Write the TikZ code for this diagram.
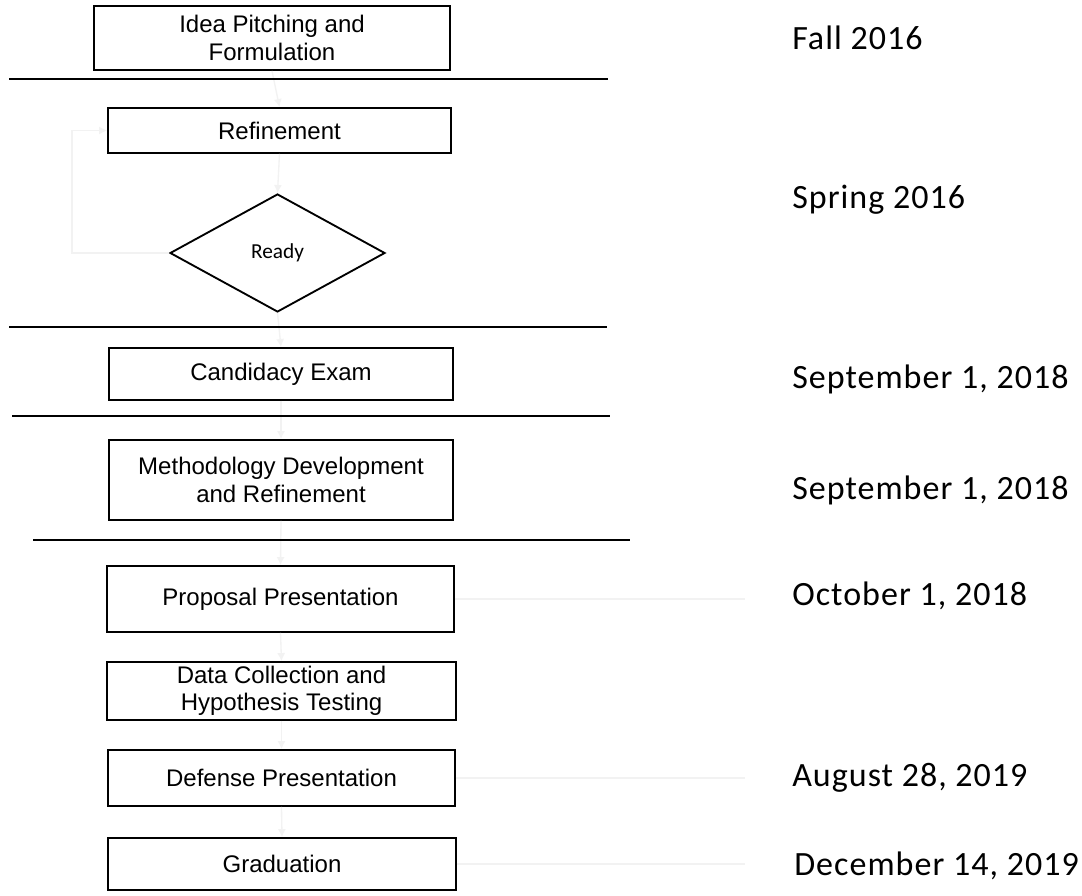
\documentclass[tikz,border=0pt]{standalone}
\usepackage{fontspec}
\setmainfont{Liberation Sans}
\newfontfamily\datefont{Carlito}
\newfontfamily\datewide[LetterSpace=3]{Carlito}
\usetikzlibrary{shapes.geometric,arrows.meta}
\def\pxu{0.75pt}
\begin{document}
\begin{tikzpicture}[x=0.75pt,y=-0.75pt,
  box/.style={draw,line width=1.4pt,inner sep=0pt,align=center,
    font=\fontsize{18}{20.5}\selectfont},
  rdybox/.style={draw,line width=1.4pt,diamond,inner sep=0pt,
    font=\datefont\fontsize{16}{18}\selectfont},
  sepline/.style={line width=1.4pt},
  faint/.style={draw=black!5,line width=1pt},
  faintarrow/.style={faint,-{Latex[length=6pt,width=6pt]}},
  datelbl/.style={anchor=west,inner sep=0pt,font=\datewide\fontsize{25.5}{30}\selectfont}]
\fill[white] (0,0) rectangle (1082,896);
\useasboundingbox (0,0) rectangle (1082,896);

% boxes
\node[box,minimum width=356*\pxu,minimum height=64*\pxu] (idea) at (272,38) {Idea Pitching and\\Formulation};
\node[box,minimum width=343*\pxu,minimum height=45*\pxu] (ref) at (279.5,130.5) {Refinement};
\node[rdybox,minimum width=215*\pxu,minimum height=118*\pxu] (rdy) at (277.5,253) {Ready};
\node[box,minimum width=344*\pxu,minimum height=52*\pxu] (cand) at (281,374) {Candidacy Exam};
\node[box,minimum width=344*\pxu,minimum height=80*\pxu] (meth) at (281,480) {Methodology Development\\and Refinement};
\node[box,minimum width=347*\pxu,minimum height=66*\pxu] (prop) at (280.5,599) {Proposal Presentation};
\node[box,minimum width=349*\pxu,minimum height=58*\pxu] (data) at (281.5,691) {Data Collection and\\Hypothesis Testing};
\node[box,minimum width=347*\pxu,minimum height=56*\pxu] (def) at (281.5,778) {Defense Presentation};
\node[box,minimum width=348*\pxu,minimum height=52*\pxu] (grad) at (282,864) {Graduation};

% faint connectors
\draw[faintarrow] (idea.south) -- (ref.north);
\draw[faintarrow] (ref.south) -- (rdy.north);
\draw[faintarrow] (rdy.west) -- (72,253) |- (ref.west);
\draw[faintarrow] (rdy.south) -- (cand.north);
\draw[faintarrow] (cand.south) -- (meth.north);
\draw[faintarrow] (meth.south) -- (prop.north);
\draw[faintarrow] (prop.south) -- (data.north);
\draw[faintarrow] (data.south) -- (def.north);
\draw[faintarrow] (def.south) -- (grad.north);
\coordinate (pe) at (745,599);
\coordinate (de) at (745,778);
\coordinate (ge) at (745,864);
\draw[faint] (prop.east) -- (pe);
\draw[faint] (def.east) -- (de);
\draw[faint] (grad.east) -- (ge);

% separator lines
\draw[sepline] (9,79) -- (608,79);
\draw[sepline] (9,327) -- (607,327);
\draw[sepline] (12,416) -- (610,416);
\draw[sepline] (33,540) -- (630,540);

% dates
\node[datelbl] (d1) at (792,38) {Fall 2016};
\node[datelbl] (d2) at (792,200) {Spring 2016};
\node[datelbl] (d3) at (792,379) {September 1, 2018};
\node[datelbl] (d4) at (792,490) {September 1, 2018};
\node[datelbl] (d5) at (792,596) {October 1, 2018};
\node[datelbl] (d6) at (792,778) {August 28, 2019};
\node[datelbl] (d7) at (794,866) {December 14, 2019};
\end{tikzpicture}
\end{document}
